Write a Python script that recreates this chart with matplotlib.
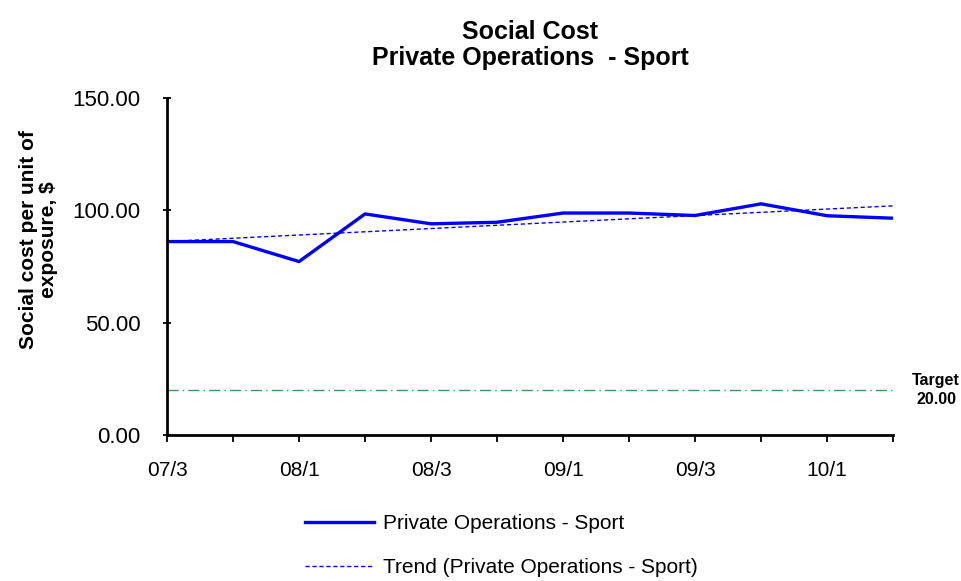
import numpy as np
import matplotlib.pyplot as plt

plt.rcParams['font.family'] = ['Liberation Sans', 'DejaVu Sans']

# quarters (year/quarter)
quarters = ['07/3', '07/4', '08/1', '08/2', '08/3', '08/4',
            '09/1', '09/2', '09/3', '09/4', '10/1', '10/2']
social_cost = [86.1, 86.1, 77.2, 98.4, 94.0, 94.7,
               98.8, 98.8, 97.7, 102.9, 97.6, 96.5]
target = 20.0
yticks = [0, 50, 100, 150]

x = np.arange(len(quarters))
# linear trend, like excel's trendline
k, b = np.polyfit(x, social_cost, 1)
trend = k * x + b

fig = plt.figure(figsize=(9.62, 5.81), dpi=100)
ax = fig.add_axes([0.1736, 0.2513, 0.7547, 0.58])

ax.plot(x, social_cost, color='#0000ff', lw=2.4, label='Private Operations - Sport')
ax.plot(x, trend, color='#0000ff', lw=1.0, ls=(0, (3, 2)),
        label='Trend (Private Operations - Sport)')
ax.axhline(target, color='#339966', lw=1.0, ls=(0, (8, 3, 1, 3)))

ax.set_xlim(0, len(quarters) - 1)
ax.set_ylim(0, 150)
ax.set_yticks(yticks)
ax.set_yticklabels(['%.2f' % v for v in yticks], fontsize=16)
ax.set_xticks(x)
ax.set_xticklabels([q if i % 2 == 0 else '' for i, q in enumerate(quarters)], fontsize=15)
ax.tick_params(axis='x', direction='out', length=5, width=1.3, pad=14)
ax.tick_params(axis='y', direction='inout', length=6, width=1.3, pad=16)

for s in ['top', 'right']:
    ax.spines[s].set_visible(False)
for s in ['left', 'bottom']:
    ax.spines[s].set_linewidth(2)

ax.set_ylabel('Social cost per unit of\nexposure, $', fontsize=15, fontweight='bold',
              linespacing=1.05)
ax.yaxis.set_label_coords(-0.150, 0.579)
ax.set_title('Social Cost\nPrivate Operations  - Sport', fontsize=18,
             fontweight='bold', pad=24, linespacing=1.1)

ax.text(1.0 + 43 / 726, target, 'Target\n%.2f' % target, transform=ax.get_yaxis_transform(),
        ha='center', va='center', fontsize=11.5, fontweight='bold', linespacing=1.4)

fig.legend(loc='upper center', bbox_to_anchor=(0.521, 0.147), frameon=False,
           fontsize=15, handlelength=3.3, labelspacing=1.2, handletextpad=0.45)

fig.savefig('out.png', dpi=100)
